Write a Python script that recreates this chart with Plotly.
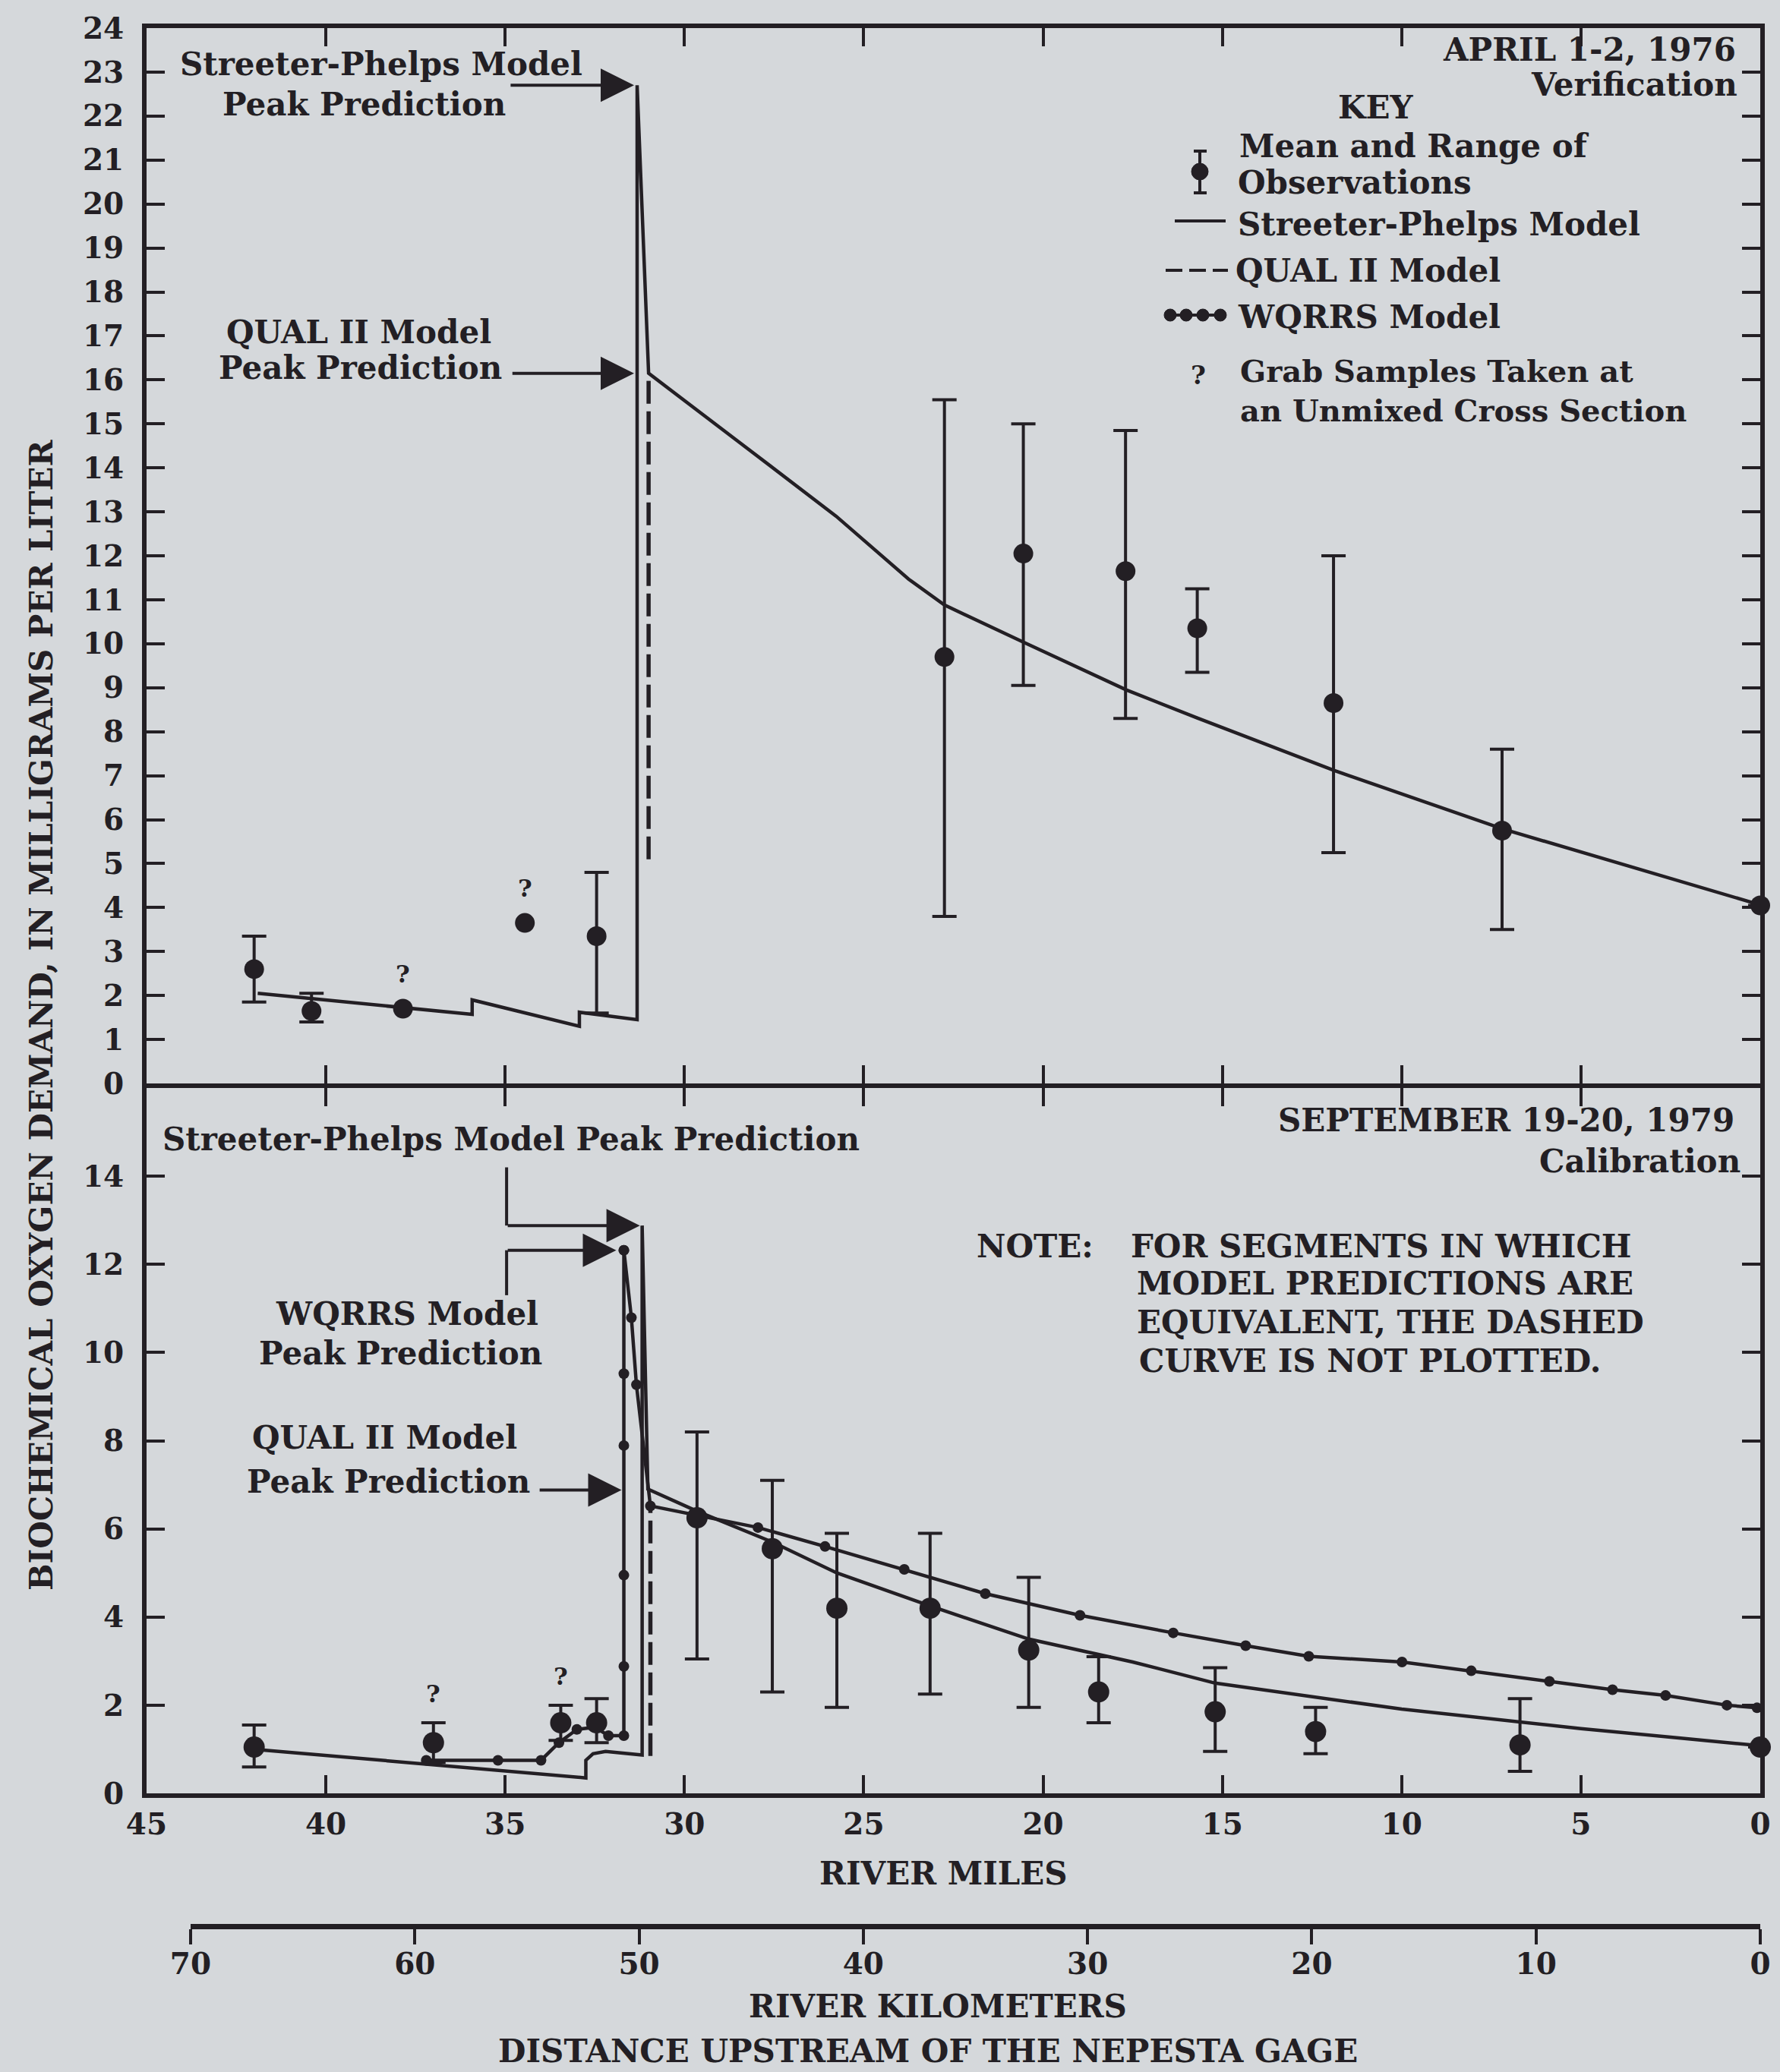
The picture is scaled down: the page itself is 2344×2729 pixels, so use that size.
import plotly.graph_objects as go

# ---------------- page geometry ----------------
W, H = 2344, 2729
L, R, T, B = 193, 26, 37, 195
PW = W - L - R
PH = H - T - B

def px(x):
    return (x - L) / PW

def py(y):
    return (H - B - y) / PH

INK = "#231f24"
BG = "#d5d8db"
FONT = "DejaVu Serif"

# ---------------- data: April 1-2, 1976 (verification) ----------------
top_obs_mile = [42.0, 40.4, 32.45, 22.75, 20.55, 17.7, 15.7, 11.9, 7.2, 0.0]
top_obs_mean = [2.6, 1.65, 3.35, 9.7, 12.05, 11.65, 10.35, 8.65, 5.75, 4.05]
top_obs_min = [1.85, 1.4, 1.6, 3.8, 9.05, 8.3, 9.35, 5.25, 3.5, None]
top_obs_max = [3.35, 2.05, 4.8, 15.55, 15.0, 14.85, 11.25, 12.0, 7.6, None]

top_grab_mile = [37.85, 34.45]
top_grab_val = [1.7, 3.65]

sp_top_mile = [41.9, 35.92, 35.92, 32.93, 32.93, 31.32, 31.32, 31.0, 28.5, 25.77,
               23.75, 22.75, 20.56, 17.68, 15.7, 11.89, 7.19, 0.0]
sp_top_val = [2.05, 1.57, 1.9, 1.3, 1.62, 1.45, 22.7, 16.15, 14.6, 12.9,
              11.47, 10.88, 10.04, 8.95, 8.31, 7.12, 5.79, 4.06]

qual_top_mile = [31.0, 31.0]
qual_top_val = [5.1, 16.15]

# ---------------- data: September 19-20, 1979 (calibration) ----------------
bot_obs_mile = [42.0, 37.0, 33.45, 32.45, 29.65, 27.55, 25.75, 23.15, 20.4, 18.45,
                15.2, 12.4, 6.7, 0.0]
bot_obs_mean = [1.05, 1.15, 1.6, 1.6, 6.25, 5.55, 4.2, 4.2, 3.25, 2.3,
                1.85, 1.4, 1.1, 1.05]
bot_obs_min = [0.6, 0.7, 1.2, 1.15, 3.05, 2.3, 1.95, 2.25, 1.95, 1.6,
               0.95, 0.9, 0.5, None]
bot_obs_max = [1.55, 1.6, 2.0, 2.15, 8.2, 7.1, 5.9, 5.9, 4.9, 3.1,
               2.85, 1.95, 2.15, None]
bot_grab_idx = [1, 2]

sp_bot_mile = [42.0, 32.75, 32.75, 32.55, 32.2, 31.18, 31.18, 31.02, 29.65, 27.55,
               25.75, 23.15, 20.4, 17.5, 15.2, 12.5, 10.0, 5.0, 0.0]
sp_bot_val = [1.0, 0.35, 0.75, 0.9, 0.95, 0.87, 12.88, 6.9, 6.4, 5.7,
              5.0, 4.25, 3.5, 2.98, 2.5, 2.2, 1.91, 1.47, 1.08]

wq_bot_mile = [37.2, 35.2, 34.0, 33.5, 33.0, 32.5, 32.12, 31.69, 31.69, 31.69,
               31.69, 31.69, 31.69, 31.69, 31.48, 31.34, 30.95, 27.95, 26.08, 23.87,
               21.61, 18.97, 16.37, 14.35, 12.59, 9.99, 8.06, 5.88, 4.12, 2.64,
               0.93, 0.09]
wq_bot_val = [0.75, 0.75, 0.75, 1.15, 1.45, 1.5, 1.31, 1.31, 2.88, 4.95,
              7.89, 9.52, 12.32, 12.32, 10.79, 9.27, 6.52, 6.03, 5.6, 5.08,
              4.53, 4.04, 3.64, 3.35, 3.11, 2.98, 2.78, 2.54, 2.35, 2.22,
              2.0, 1.94]

qual_bot_mile = [30.95, 30.95]
qual_bot_val = [0.85, 6.55]

# ---------------- axis tick labels ----------------
mile_ticks = [45, 40, 35, 30, 25, 20, 15, 10, 5, 0]
km_ticks = [70, 60, 50, 40, 30, 20, 10, 0]
top_y_ticks = list(range(0, 25))
bot_y_ticks = [0, 2, 4, 6, 8, 10, 12, 14]


def err(mean, lo, hi):
    plus = [(h - m) if h is not None else None for m, h in zip(mean, hi)]
    minus = [(m - l) if l is not None else None for m, l in zip(mean, lo)]
    return plus, minus


fig = go.Figure()
LW = 4.5

# top panel
fig.add_trace(go.Scatter(x=sp_top_mile, y=sp_top_val, mode="lines",
                         line=dict(color=INK, width=LW), xaxis="x", yaxis="y",
                         cliponaxis=False))
fig.add_trace(go.Scatter(x=qual_top_mile, y=qual_top_val, mode="lines",
                         line=dict(color=INK, width=LW + 1, dash="30px,10px"),
                         xaxis="x", yaxis="y"))
p, m = err(top_obs_mean, top_obs_min, top_obs_max)
fig.add_trace(go.Scatter(x=top_obs_mile, y=top_obs_mean, mode="markers",
                         marker=dict(color=INK, size=26),
                         error_y=dict(type="data", symmetric=False, array=p, arrayminus=m,
                                      color=INK, thickness=4, width=16),
                         xaxis="x", yaxis="y", cliponaxis=False))
fig.add_trace(go.Scatter(x=top_grab_mile, y=top_grab_val, mode="markers",
                         marker=dict(color=INK, size=26), xaxis="x", yaxis="y"))

# bottom panel
fig.add_trace(go.Scatter(x=sp_bot_mile, y=sp_bot_val, mode="lines",
                         line=dict(color=INK, width=LW), xaxis="x2", yaxis="y2"))
fig.add_trace(go.Scatter(x=qual_bot_mile, y=qual_bot_val, mode="lines",
                         line=dict(color=INK, width=LW + 1, dash="30px,10px"),
                         xaxis="x2", yaxis="y2"))
fig.add_trace(go.Scatter(x=wq_bot_mile, y=wq_bot_val, mode="lines+markers",
                         line=dict(color=INK, width=LW), marker=dict(color=INK, size=14),
                         xaxis="x2", yaxis="y2", cliponaxis=False))
p, m = err(bot_obs_mean, bot_obs_min, bot_obs_max)
fig.add_trace(go.Scatter(x=bot_obs_mile, y=bot_obs_mean, mode="markers",
                         marker=dict(color=INK, size=28),
                         error_y=dict(type="data", symmetric=False, array=p, arrayminus=m,
                                      color=INK, thickness=4, width=16),
                         xaxis="x2", yaxis="y2", cliponaxis=False))

# kilometre scale (no marks, only to carry the axis in its own thin strip)
fig.add_trace(go.Scatter(x=km_ticks, y=[None] * len(km_ticks), mode="lines",
                         xaxis="x3", yaxis="y3", hoverinfo="skip"))

# ---------------- axes ----------------
tickfont = dict(family=FONT, size=39, color=INK, weight="bold")
AXW = 6
common = dict(showline=True, linecolor=INK, linewidth=AXW, ticks="inside",
              tickcolor=INK, tickwidth=4, ticklen=24, showgrid=False,
              zeroline=False, mirror="ticks", tickfont=tickfont, fixedrange=True)

# the two panels share the divider line at y = 1430 px; domains overlap by one
# line width so that both axis lines fall on the same pixels
TOP_DOM = [py(1430 - AXW / 2), 1.0]
BOT_DOM = [py(2362), py(1430 + AXW / 2)]

fig.update_layout(
    width=W, height=H,
    margin=dict(l=L, r=R, t=T, b=B, pad=0),
    paper_bgcolor=BG, plot_bgcolor="rgba(0,0,0,0)",
    showlegend=False,
    font=dict(family=FONT, color=INK),
    xaxis=dict(common, domain=[0, 1], range=[45, 0], anchor="y",
               tickvals=mile_ticks, showticklabels=False),
    yaxis=dict(common, domain=TOP_DOM, range=[0, 24], anchor="x",
               tickvals=top_y_ticks, ticklabelstandoff=16),
    xaxis2=dict(common, domain=[0, 1], range=[45, 0], anchor="y2",
                tickvals=mile_ticks, ticklabelstandoff=1),
    yaxis2=dict(common, domain=BOT_DOM, range=[0, 16], anchor="x2",
                tickvals=bot_y_ticks, ticklabelstandoff=16),
    xaxis3=dict(showline=True, linecolor=INK, linewidth=7, ticks="outside",
                tickcolor=INK, tickwidth=4, ticklen=20, showgrid=False,
                zeroline=False, tickfont=tickfont, anchor="y3",
                domain=[px(251), 1.0], range=[70, 0], tickvals=km_ticks,
                ticklabelstandoff=-8, fixedrange=True),
    yaxis3=dict(domain=[0, 0.002], visible=False, anchor="x3", fixedrange=True),
)

# ---------------- annotations ----------------
ann = []
TF = 42


def txt(text, x, y, xanchor="center", size=TF, bold=True, align="center"):
    ann.append(dict(text=text, x=px(x), y=py(y), xref="paper", yref="paper",
                    xanchor=xanchor, yanchor="middle", showarrow=False, align=align,
                    font=dict(family=FONT, size=size, color=INK,
                              weight="bold" if bold else "normal")))


def arrow(xa, ya, xh, yh, xref, yref, standoff=0):
    ann.append(dict(text="", x=xh, y=yh, ax=xa, ay=ya, xref=xref, yref=yref,
                    axref=xref, ayref=yref, showarrow=True, arrowhead=2,
                    arrowsize=2.2, arrowwidth=4, arrowcolor=INK, standoff=standoff))


# top panel texts
txt("Streeter-Phelps Model", 502, 84)
txt("Peak Prediction", 479, 137)
sp_peak = max(sp_top_val)
sp_peak_mile = sp_top_mile[sp_top_val.index(sp_peak)]
arrow(34.88, sp_peak, sp_peak_mile, sp_peak, "x", "y", standoff=4)

txt("QUAL II Model", 472, 438)
txt("Peak Prediction", 474, 485)
q_peak = max(qual_top_val)
arrow(34.83, q_peak, sp_peak_mile, q_peak, "x", "y", standoff=4)

txt("APRIL 1-2, 1976", 2288, 66, xanchor="right")
txt("Verification", 2290, 111, xanchor="right")

# key
txt("KEY", 1812, 141)
txt("Mean and Range of", 1630, 193, xanchor="left")
txt("Observations", 1628, 240, xanchor="left")
txt("Streeter-Phelps Model", 1628, 296, xanchor="left")
txt("QUAL II Model", 1625, 356, xanchor="left")
txt("WQRRS Model", 1628, 418, xanchor="left")
txt("?", 1578, 494, size=34)
txt("Grab Samples Taken at<br>an Unmixed Cross Section", 1631, 514,
    xanchor="left", size=40, align="left")

shapes = []


def pline(x0, y0, x1, y1, w=4, dash=None):
    shapes.append(dict(type="line", xref="paper", yref="paper", x0=px(x0), y0=py(y0),
                       x1=px(x1), y1=py(y1), line=dict(color=INK, width=w, dash=dash)))


def pdot(cx, cy, r):
    shapes.append(dict(type="circle", xref="paper", yref="paper", x0=px(cx - r),
                       x1=px(cx + r), y0=py(cy + r), y1=py(cy - r),
                       fillcolor=INK, line=dict(color=INK, width=1)))


# key symbols
pline(1580, 199, 1580, 254)
pline(1572, 199, 1589, 199)
pline(1572, 254, 1589, 254)
pdot(1580, 226, 11)
pline(1547, 291, 1614, 291)
pline(1535, 356, 1617, 356, dash="22px,9px")
pline(1540, 415, 1608, 415)
for cx in (1541, 1562, 1584, 1607):
    pdot(cx, 415, 8)

# "?" flags for grab samples
qfont = dict(family=FONT, size=32, color=INK, weight="bold")
for xm, yv in zip(top_grab_mile, top_grab_val):
    ann.append(dict(text="?", x=xm, y=yv, xref="x", yref="y", yshift=46,
                    showarrow=False, font=qfont))
for i in bot_grab_idx:
    ann.append(dict(text="?", x=bot_obs_mile[i], y=bot_obs_max[i], xref="x2", yref="y2",
                    yshift=38, showarrow=False, font=qfont))

# bottom panel texts
txt("Streeter-Phelps Model Peak Prediction", 212, 1500, xanchor="left")
spb_peak = max(sp_bot_val)
spb_peak_mile = sp_bot_mile[sp_bot_val.index(spb_peak)]
shapes.append(dict(type="line", xref="x2", yref="y2", x0=34.96, x1=34.96, y0=14.2,
                   y1=spb_peak, line=dict(color=INK, width=4)))
arrow(34.96, spb_peak, spb_peak_mile, spb_peak, "x2", "y2", standoff=3)

wq_peak = max(wq_bot_val)
wq_peak_mile = wq_bot_mile[wq_bot_val.index(wq_peak)]
shapes.append(dict(type="line", xref="x2", yref="y2", x0=34.96, x1=34.96, y0=11.3,
                   y1=wq_peak, line=dict(color=INK, width=4)))
arrow(34.96, wq_peak, wq_peak_mile, wq_peak, "x2", "y2", standoff=10)
txt("WQRRS Model", 536, 1730)
txt("Peak Prediction", 527, 1782)

txt("QUAL II Model", 506, 1893)
txt("Peak Prediction", 511, 1951)
qb_peak = 6.88
arrow(34.07, qb_peak, wq_peak_mile, qb_peak, "x2", "y2", standoff=3)

txt("SEPTEMBER 19-20, 1979", 2286, 1475, xanchor="right")
txt("Calibration", 2294, 1529, xanchor="right")

txt("NOTE:", 1284, 1641, xanchor="left")
txt("FOR SEGMENTS IN WHICH", 1487, 1641, xanchor="left")
txt("MODEL PREDICTIONS ARE", 1495, 1690, xanchor="left")
txt("EQUIVALENT, THE DASHED", 1495, 1741, xanchor="left")
txt("CURVE IS NOT PLOTTED.", 1498, 1792, xanchor="left")

# axis titles
ann.append(dict(text="BIOCHEMICAL OXYGEN DEMAND, IN MILLIGRAMS PER LITER",
                x=px(54), y=py(1337), xref="paper", yref="paper", textangle=-90,
                xanchor="center", yanchor="middle", showarrow=False,
                font=dict(family=FONT, size=TF, color=INK, weight="bold")))
txt("RIVER MILES", 1242, 2467)
txt("RIVER KILOMETERS", 1235, 2642)
txt("DISTANCE UPSTREAM OF THE NEPESTA GAGE", 1222, 2701)

fig.update_layout(annotations=ann, shapes=shapes)
fig.write_html(
    "out.html",
    config={"displayModeBar": False, "staticPlot": True},
    post_script=("document.body.style.margin='0';"
                 "document.body.style.padding='0';"
                 "document.body.style.background='" + BG + "';"
                 "document.documentElement.style.overflow='hidden';"),
)
